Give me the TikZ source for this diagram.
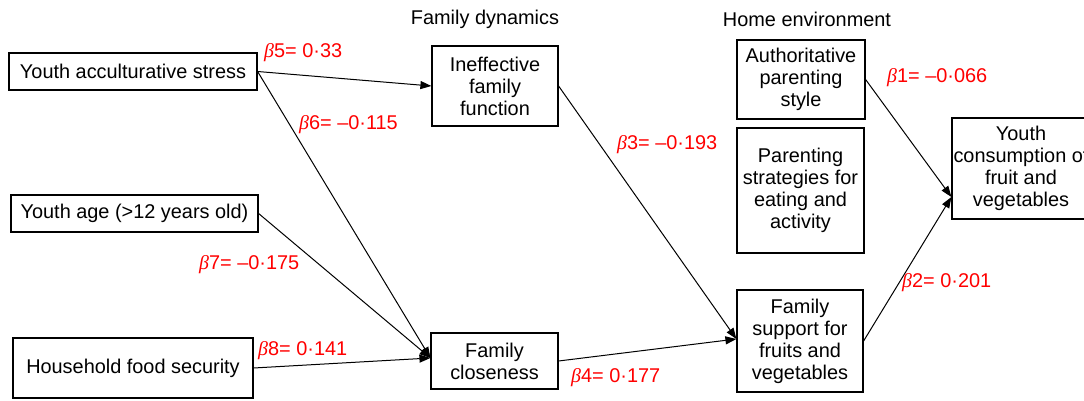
\documentclass[tikz,border=0pt]{standalone}
\usepackage{fontspec}
\setmainfont{Liberation Sans}
\newfontfamily\grk{Liberation Serif}
\newcommand{\bt}{{\grk\itshape β}}
\usetikzlibrary{arrows.meta,calc}
\begin{document}
\begin{tikzpicture}[x=1pt,y=-1pt,
  every node/.style={font=\fontsize{19.9}{22}\selectfont, inner sep=0pt},
  box/.style={draw=black, line width=1.2pt, align=center, rectangle},
  link/.style={draw=black, line width=1pt, -{Triangle[length=11pt,width=8pt]}},
  beta/.style={text=red, anchor=west},
  head/.style={anchor=center}]
\path[use as bounding box, clip] (0,0) rectangle (1084,401);
% headings
\node[head] (hfd) at (485,19) {Family dynamics};
\node[head] (hhe) at (807,19) {Home environment};
% left boxes
\node[box, minimum width=248pt, minimum height=37pt] (stress) at (133,71.5) {Youth acculturative stress};
\node[box, minimum width=247pt, minimum height=37pt] (age) at (134.5,213.5) {Youth age (>12 years old)};
\node[box, minimum width=240pt, minimum height=60pt] (food) at (133,368) {Household food security};
% family dynamics
\node[box, minimum width=126pt, minimum height=80pt] (ineff) at (495,86) {Ineffective\\family\\function};
\node[box, minimum width=127pt, minimum height=56pt] (close) at (494.5,361) {Family\\closeness};
% home environment
\node[box, minimum width=128pt, minimum height=79pt] (auth) at (801,79.5) {Authoritative\\parenting\\style};
\node[box, minimum width=127pt, minimum height=125pt] (strat) at (800.5,190.5) {Parenting\\strategies for\\eating and\\activity};
\node[box, minimum width=126pt, minimum height=102pt] (support) at (800,341) {Family\\support for\\fruits and\\vegetables};
% outcome
\node[box, minimum width=138pt, minimum height=101pt] (consume) at (1021,168.5) {Youth\\consumption of\\fruit and\\vegetables};
\coordinate (cin) at ([yshift=-28.5pt]consume.west);
\coordinate (clin) at ([yshift=3pt]close.west);
\coordinate (sin) at ([yshift=2pt]support.west);
% connectors
\draw[link] (stress.east) -- (ineff.west);
\draw[link] (stress.east) -- (clin);
\draw[link] (age.east) -- (clin);
\draw[link] (food.east) -- (clin);
\draw[link] (ineff.east) -- (sin);
\draw[link] (close.east) -- (sin);
\draw[link] (auth.east) -- (cin);
\draw[link] (support.east) -- (cin);
% coefficients
\node[beta] (b5) at (264,53) {\bt5= 0·33};
\node[beta] (b6) at (299,125) {\bt6= –0·115};
\node[beta] (b7) at (199,265) {\bt7= –0·175};
\node[beta] (b8) at (258,351) {\bt8= 0·141};
\node[beta] (b3) at (617,145) {\bt3= –0·193};
\node[beta] (b4) at (571,378) {\bt4= 0·177};
\node[beta] (b1) at (887,78) {\bt1= –0·066};
\node[beta] (b2) at (902,283) {\bt2= 0·201};
\end{tikzpicture}
\end{document}
